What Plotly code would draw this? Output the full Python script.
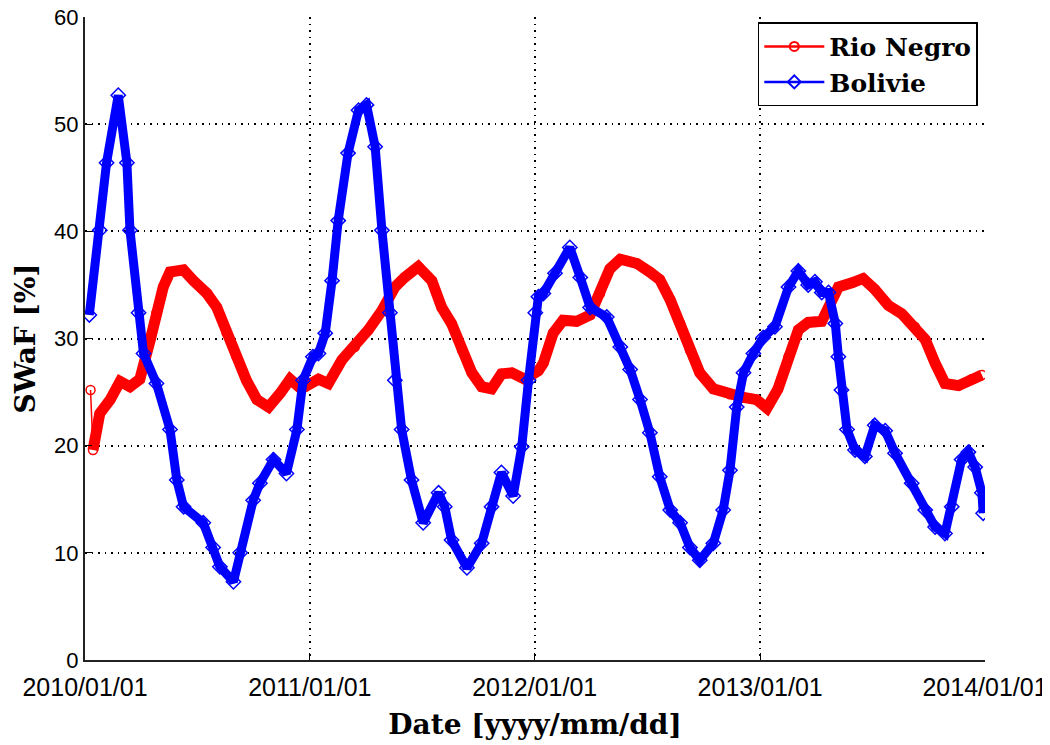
import pandas as pd
import plotly.graph_objects as go

# Days since 2010-01-01 and SWaF values [%]
rio_days = [9, 13, 24, 41, 57, 73, 89, 106, 116, 127, 138, 160, 176, 198, 214, 230, 246, 262, 279, 298,
            317, 333, 349, 357, 379, 395, 417, 438, 460, 482, 503, 519, 541, 563, 579, 595, 612, 628, 644,
            660, 676, 693, 714, 736, 744, 760, 776, 798, 820, 836, 852, 869, 896, 917, 933, 950, 966, 982,
            998, 1020, 1047, 1069, 1090, 1107, 1125, 1142, 1158, 1174, 1196, 1207, 1223, 1245, 1263, 1282,
            1304, 1326, 1347, 1364, 1380, 1396, 1418, 1439, 1456]
rio_vals = [25.2, 19.6, 23.0, 24.3, 26.0, 25.5, 26.2, 29.9, 32.4, 34.8, 36.2, 36.4, 35.4, 34.2, 32.9, 30.5,
            28.3, 26.1, 24.3, 23.6, 24.9, 26.2, 25.4, 25.5, 26.2, 25.8, 28.0, 29.2, 30.8, 32.6, 34.8, 35.7,
            36.7, 35.4, 32.9, 31.4, 28.9, 26.8, 25.5, 25.3, 26.7, 26.8, 26.2, 27.0, 27.7, 30.5, 31.7, 31.6,
            32.2, 34.2, 36.5, 37.4, 37.0, 36.2, 35.5, 33.6, 31.4, 28.9, 26.8, 25.3, 24.8, 24.5, 24.3, 23.5,
            25.3, 28.3, 30.8, 31.5, 31.6, 32.9, 34.8, 35.2, 35.6, 34.6, 33.1, 32.3, 31.1, 29.9, 27.7, 25.8,
            25.6, 26.2, 26.6]

bol_days = [7, 24, 35, 54, 68, 73, 87, 95, 116, 138, 149, 160, 192, 208, 219, 241, 252, 273, 284, 306,
            327, 344, 354, 370, 379, 390, 401, 411, 427, 444, 457, 471, 482, 495, 503, 514, 530, 549, 574,
            584, 595, 620, 644, 660, 676, 695, 709, 720, 731, 736, 744, 763, 787, 804, 820, 847, 869, 885,
            901, 917, 933, 950, 966, 982, 998, 1020, 1036, 1047, 1058, 1069, 1085, 1101, 1120, 1142, 1158,
            1174, 1185, 1196, 1207, 1218, 1223, 1228, 1237, 1250, 1266, 1282, 1299, 1315, 1342, 1364, 1380,
            1396, 1407, 1423, 1434, 1445, 1456, 1458]
bol_vals = [32.2, 40.1, 46.4, 52.7, 46.4, 40.1, 32.4, 28.6, 25.8, 21.5, 16.8, 14.3, 12.8, 10.5, 8.7, 7.3,
            10.0, 14.9, 16.5, 18.7, 17.4, 21.5, 26.1, 28.3, 28.6, 30.5, 35.4, 41.0, 47.3, 51.3, 51.8, 47.9,
            40.1, 32.4, 26.1, 21.5, 16.8, 12.8, 15.6, 14.3, 11.2, 8.6, 10.9, 14.3, 17.5, 15.3, 19.9, 26.1,
            32.4, 33.9, 34.2, 36.1, 38.5, 35.7, 32.9, 32.0, 29.2, 27.1, 24.3, 21.2, 17.1, 14.0, 12.8, 10.5,
            9.3, 10.9, 14.0, 17.7, 23.6, 26.8, 28.6, 30.1, 31.1, 34.8, 36.3, 35.0, 35.3, 34.3, 34.3, 31.4,
            28.3, 25.2, 21.5, 19.6, 19.0, 21.9, 21.4, 19.3, 16.5, 14.0, 12.4, 11.8, 14.3, 18.7, 19.4, 18.0,
            15.6, 13.7]

x_ticks = ["2010-01-01", "2011-01-01", "2012-01-01", "2013-01-01", "2014-01-01"]
x_ticklabels = ["2010/01/01", "2011/01/01", "2012/01/01", "2013/01/01", "2014/01/01"]
y_ticks = [0, 10, 20, 30, 40, 50, 60]

t0 = pd.Timestamp("2010-01-01")
rio_dates = t0 + pd.to_timedelta(rio_days, unit="D")
bol_dates = t0 + pd.to_timedelta(bol_days, unit="D")

RED = "#ff0000"
BLUE = "#0000ff"

fig = go.Figure()

# thick band (dense markers in the original)
fig.add_trace(go.Scatter(x=rio_dates[1:], y=rio_vals[1:], mode="lines",
                         line=dict(color=RED, width=11), showlegend=False, hoverinfo="skip"))
fig.add_trace(go.Scatter(x=rio_dates, y=rio_vals, mode="lines+markers",
                         line=dict(color=RED, width=1.5),
                         marker=dict(symbol="circle-open", size=9, color=RED, line=dict(width=1.5)),
                         showlegend=False))
fig.add_trace(go.Scatter(x=bol_dates, y=bol_vals, mode="lines",
                         line=dict(color=BLUE, width=9), showlegend=False, hoverinfo="skip"))
fig.add_trace(go.Scatter(x=bol_dates, y=bol_vals, mode="lines+markers",
                         line=dict(color=BLUE, width=1.5),
                         marker=dict(symbol="diamond-open", size=11, color=BLUE, line=dict(width=1.5)),
                         showlegend=False))

# legend entries
fig.add_trace(go.Scatter(x=[None], y=[None], mode="lines+markers", name="Rio Negro",
                         line=dict(color=RED, width=2.5),
                         marker=dict(symbol="circle-open", size=9, color=RED, line=dict(width=2))))
fig.add_trace(go.Scatter(x=[None], y=[None], mode="lines+markers", name="Bolivie",
                         line=dict(color=BLUE, width=2.5),
                         marker=dict(symbol="diamond-open", size=10, color=BLUE, line=dict(width=2))))

xtick_font = dict(family="Liberation Sans, Arial, sans-serif", size=25, color="black")
ytick_font = dict(family="Liberation Sans, Arial, sans-serif", size=22, color="black")
title_font = dict(family="DejaVu Serif, serif", size=28, color="black", weight="bold")
GRID_DASH = "1.5px,5px"

# page body adds an 8px offset; figure sized so the plot area lands where the reference has it
fig.update_layout(
    width=1042, height=737,
    margin=dict(l=77, r=65, t=9, b=85),
    paper_bgcolor="white", plot_bgcolor="white",
    legend=dict(x=0.992, y=0.992, xanchor="right", yanchor="top",
                bgcolor="white", bordercolor="black", borderwidth=1.5,
                font=dict(family="DejaVu Serif, serif", size=25, color="black", weight="bold"),
                tracegroupgap=0, itemwidth=60),
    xaxis=dict(range=["2010-01-01", "2014-01-01"], tickmode="array", tickvals=x_ticks,
               ticktext=x_ticklabels, ticks="inside", ticklen=7, tickcolor="black",
               showline=True, linecolor="#222222", linewidth=2, mirror=False,
               showgrid=True, gridcolor="black", griddash=GRID_DASH, gridwidth=1.5,
               zeroline=False, tickfont=xtick_font, automargin=False,
               ticklabeloverflow="allow", ticklabelstandoff=4,
               title=dict(text="Date [yyyy/mm/dd]", font=title_font, standoff=14)),
    yaxis=dict(range=[0, 60], tickmode="array", tickvals=y_ticks,
               ticks="inside", ticklen=7, tickcolor="black",
               showline=True, linecolor="#222222", linewidth=2, mirror=False,
               showgrid=True, gridcolor="black", griddash=GRID_DASH, gridwidth=1.5,
               zeroline=False, tickfont=ytick_font, automargin=False,
               ticklabeloverflow="allow",
               title=dict(text="SWaF [%]", font=title_font, standoff=10)),
)

fig.write_html("out.html")
